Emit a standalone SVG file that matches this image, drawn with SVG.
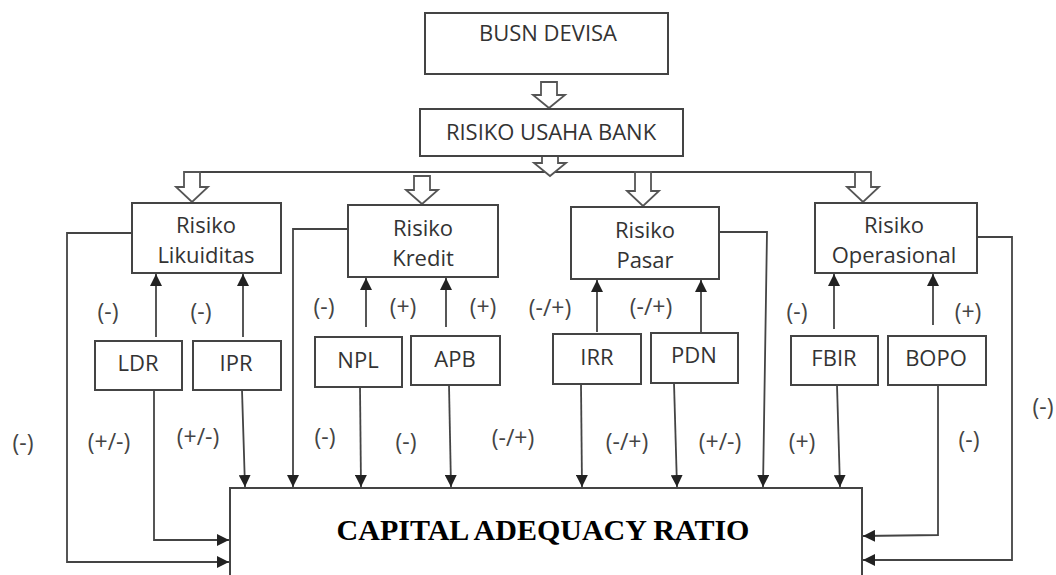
<svg xmlns="http://www.w3.org/2000/svg" width="1056" height="575" viewBox="0 0 1056 575">
<style>
.box{fill:#fff;stroke:#444;stroke-width:2}
.t{font-family:"Open Sans","Liberation Sans",sans-serif;font-size:22px;fill:#333;text-anchor:middle}
.lbl{font-family:"Open Sans","Liberation Sans",sans-serif;font-size:23px;fill:#444;text-anchor:middle}
.hol{fill:#fff;stroke:#555;stroke-width:1.8;stroke-linejoin:miter}
.ln{fill:none;stroke:#444;stroke-width:1.8}
.car{font-family:"Liberation Serif","Times New Roman",serif;font-weight:bold;font-size:30px;fill:#000;text-anchor:middle}
</style>
<defs>
<marker id="ah" viewBox="0 0 12 12" markerUnits="userSpaceOnUse" markerWidth="12" markerHeight="12" refX="12" refY="6" orient="auto">
<path d="M0,0 L12,6 L0,12 z" fill="#222"/>
</marker>
</defs>
<rect width="1056" height="575" fill="#fff"/>

<g id="connectors">
<line class="ln" x1="190" y1="172" x2="860" y2="172"/>
<polygon class="hol" points="541,82 557,82 557,95 565,95 549,108 533,95 541,95"/>
<polygon class="hol" points="542,149 558,149 558,163 566,163 550,176 534,163 542,163"/>
<polygon class="hol" points="184,172 200,172 200,187 208,187 192,202 176,187 184,187"/>
<polygon class="hol" points="414,176 430,176 430,190 438,190 422,204 406,190 414,190"/>
<polygon class="hol" points="635,172 651,172 651,191 659,191 643,206 627,191 635,191"/>
<polygon class="hol" points="855,172 871,172 871,187 879,187 863,202 847,187 855,187"/>
<line class="ln" x1="156" y1="337" x2="156" y2="274" marker-end="url(#ah)"/>
<line class="ln" x1="243" y1="337" x2="243" y2="274" marker-end="url(#ah)"/>
<line class="ln" x1="366" y1="327" x2="366" y2="278" marker-end="url(#ah)"/>
<line class="ln" x1="446" y1="327" x2="446" y2="278" marker-end="url(#ah)"/>
<line class="ln" x1="597" y1="332" x2="597" y2="280" marker-end="url(#ah)"/>
<line class="ln" x1="701" y1="332" x2="701" y2="280" marker-end="url(#ah)"/>
<line class="ln" x1="834" y1="329" x2="834" y2="274" marker-end="url(#ah)"/>
<line class="ln" x1="933" y1="325" x2="933" y2="274" marker-end="url(#ah)"/>
<polyline class="ln" points="132,233 67,233 67,562 229,562" marker-end="url(#ah)"/>
<polyline class="ln" points="154,390 154,540 229,540" marker-end="url(#ah)"/>
<line class="ln" x1="242" y1="390" x2="245" y2="487" marker-end="url(#ah)"/>
<polyline class="ln" points="348,229 293,229 293,487" marker-end="url(#ah)"/>
<line class="ln" x1="360" y1="387" x2="361" y2="487" marker-end="url(#ah)"/>
<line class="ln" x1="449" y1="385" x2="451" y2="487" marker-end="url(#ah)"/>
<line class="ln" x1="581" y1="384" x2="582" y2="487" marker-end="url(#ah)"/>
<line class="ln" x1="674" y1="383" x2="677" y2="487" marker-end="url(#ah)"/>
<polyline class="ln" points="719,232 767,232 763,487" marker-end="url(#ah)"/>
<line class="ln" x1="837" y1="385" x2="840" y2="487" marker-end="url(#ah)"/>
<polyline class="ln" points="938,385 938,535 863,536" marker-end="url(#ah)"/>
<polyline class="ln" points="977,237 1012,237 1012,560 863,560" marker-end="url(#ah)"/>
</g>

<g id="busn"><rect class="box" x="425" y="13" width="243" height="61"/><text class="t" x="548" y="41">BUSN DEVISA</text></g>
<g id="rub"><rect class="box" x="420" y="109" width="263" height="47"/><text class="t" x="551" y="140">RISIKO USAHA BANK</text></g>

<g id="likuiditas"><rect class="box" x="132" y="203" width="149" height="70"/><text class="t" x="206" y="233">Risiko</text><text class="t" x="206" y="263">Likuiditas</text></g>
<g id="kredit"><rect class="box" x="348" y="205" width="150" height="72"/><text class="t" x="423" y="236">Risiko</text><text class="t" x="423" y="266">Kredit</text></g>
<g id="pasar"><rect class="box" x="571" y="207" width="148" height="72"/><text class="t" x="645" y="238">Risiko</text><text class="t" x="645" y="268">Pasar</text></g>
<g id="operasional"><rect class="box" x="815" y="203" width="162" height="70"/><text class="t" x="894" y="233">Risiko</text><text class="t" x="894" y="263">Operasional</text></g>

<g id="ldr"><rect class="box" x="95" y="341" width="87" height="49"/><text class="t" x="138" y="371">LDR</text></g>
<g id="ipr"><rect class="box" x="193" y="341" width="88" height="49"/><text class="t" x="236" y="371">IPR</text></g>
<g id="npl"><rect class="box" x="315" y="337" width="87" height="50"/><text class="t" x="358" y="368">NPL</text></g>
<g id="apb"><rect class="box" x="411" y="336" width="89" height="49"/><text class="t" x="455" y="367">APB</text></g>
<g id="irr"><rect class="box" x="553" y="334" width="88" height="50"/><text class="t" x="597" y="365">IRR</text></g>
<g id="pdn"><rect class="box" x="651" y="333" width="87" height="50"/><text class="t" x="694" y="363">PDN</text></g>
<g id="fbir"><rect class="box" x="791" y="336" width="87" height="49"/><text class="t" x="834" y="366">FBIR</text></g>
<g id="bopo"><rect class="box" x="888" y="336" width="98" height="49"/><text class="t" x="936" y="366">BOPO</text></g>

<g id="car"><rect class="box" x="230" y="488" width="632" height="100"/><text class="car" x="543" y="540">CAPITAL ADEQUACY RATIO</text></g>

<g id="labels">
<text class="lbl" x="108" y="320">(-)</text>
<text class="lbl" x="201" y="320">(-)</text>
<text class="lbl" x="324" y="315">(-)</text>
<text class="lbl" x="403" y="315">(+)</text>
<text class="lbl" x="483" y="315">(+)</text>
<text class="lbl" x="550" y="316">(-/+)</text>
<text class="lbl" x="651" y="315">(-/+)</text>
<text class="lbl" x="797" y="320">(-)</text>
<text class="lbl" x="968" y="320">(+)</text>
<text class="lbl" x="23" y="451">(-)</text>
<text class="lbl" x="109" y="450">(+/-)</text>
<text class="lbl" x="198" y="445">(+/-)</text>
<text class="lbl" x="325" y="445">(-)</text>
<text class="lbl" x="406" y="450">(-)</text>
<text class="lbl" x="513" y="446">(-/+)</text>
<text class="lbl" x="627" y="450">(-/+)</text>
<text class="lbl" x="720" y="450">(+/-)</text>
<text class="lbl" x="802" y="450">(+)</text>
<text class="lbl" x="969" y="448">(-)</text>
<text class="lbl" x="1043" y="415">(-)</text>
</g>
</svg>
